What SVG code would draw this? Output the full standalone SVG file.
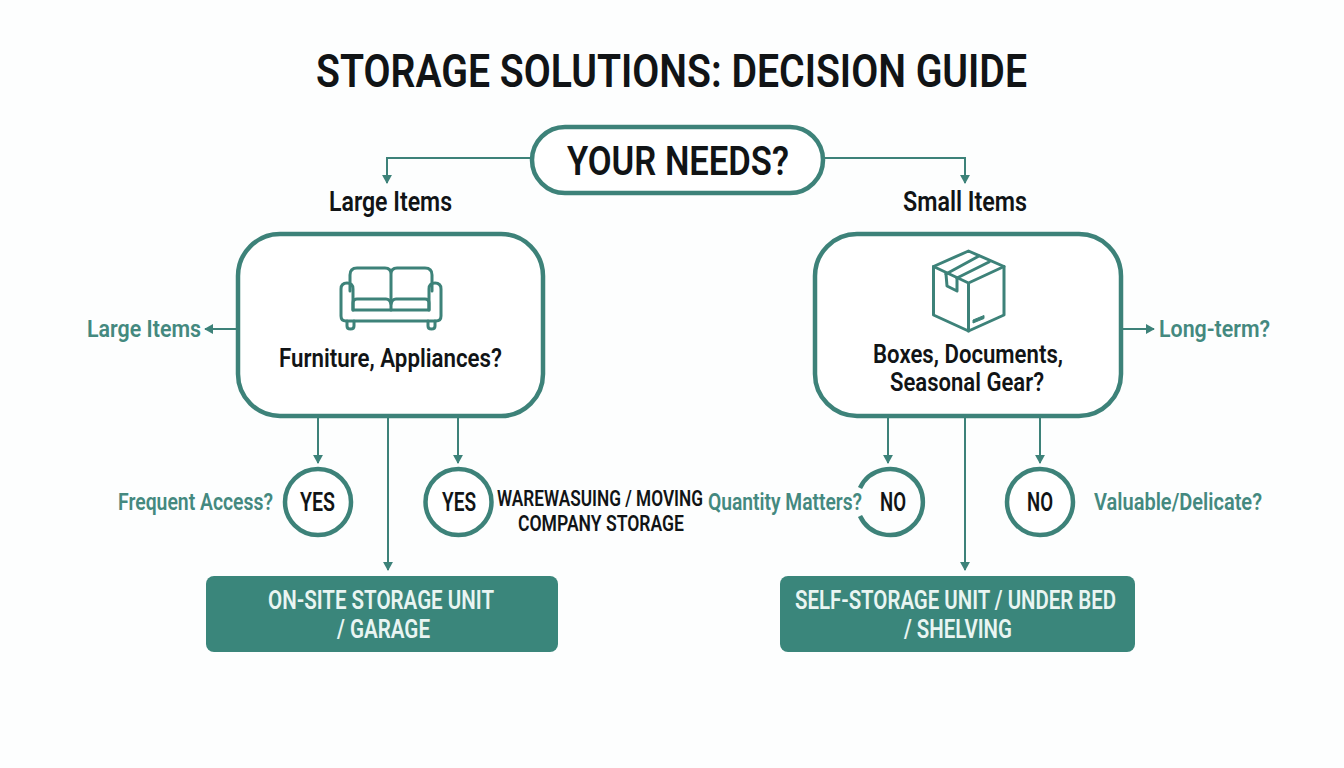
<svg xmlns="http://www.w3.org/2000/svg" width="1344" height="768" viewBox="0 0 1344 768">
<style>
text{font-family:Roboto,"Liberation Sans",sans-serif;font-weight:600}
.dk{fill:#111416}
.gr{fill:#44897f;font-size:24px}
.wh{fill:#e9f5f2;font-size:26px;font-weight:600}
.frame{fill:#fff;stroke:#3d8279;stroke-width:4.5}
.icon{fill:none;stroke:#3d8279;stroke-width:3;stroke-linejoin:round;stroke-linecap:round}
.conn{fill:none;stroke:#3d8279;stroke-width:2;marker-end:url(#ah)}
.res{fill:#3a867b}
</style>
<defs>
<marker id="ah" viewBox="0 0 10 10" refX="9" refY="5" markerWidth="9" markerHeight="10" markerUnits="userSpaceOnUse" orient="auto" preserveAspectRatio="none"><path d="M0 0L10 5L0 10Z" fill="#3d8279"/></marker>
</defs>
<rect width="1344" height="768" fill="#fdfefe"/>
<text id="title" class="dk" x="316" y="87" font-size="47" font-weight="700" textLength="711" lengthAdjust="spacingAndGlyphs">STORAGE SOLUTIONS: DECISION GUIDE</text>
<g id="connectors">
<path class="conn" d="M532 158H387V183"/>
<path class="conn" d="M823 158H965V183"/>
<path class="conn" d="M238 329H205"/>
<path class="conn" d="M1121 329H1154"/>
<path class="conn" d="M318 416V463"/>
<path class="conn" d="M388 416V570"/>
<path class="conn" d="M458 416V463"/>
<path class="conn" d="M888 416V463"/>
<path class="conn" d="M965 416V570"/>
<path class="conn" d="M1040 416V463"/>
</g>
<g id="start">
<rect class="frame" x="532" y="127" width="291" height="66" rx="33"/>
<text class="dk" x="567" y="175" font-size="40" textLength="222" lengthAdjust="spacingAndGlyphs">YOUR NEEDS?</text>
</g>
<g id="label-large"><text class="dk" x="329" y="211" font-size="27" textLength="123" lengthAdjust="spacingAndGlyphs">Large Items</text></g>
<g id="label-small"><text class="dk" x="903" y="211" font-size="27" textLength="124" lengthAdjust="spacingAndGlyphs">Small Items</text></g>
<g id="large-node">
<rect class="frame" x="238" y="234" width="305" height="182" rx="42"/>
<g class="icon">
<path d="M350 291V275Q350 268 357 268H385Q391 268 391 274V310M391 274Q391 268 397 268H425Q432 268 432 275V291"/>
<path d="M353 310V303Q353 299 357 299H386Q390 299 391 304Q392 299 396 299H425Q429 299 429 303V310Z"/>
<path d="M353 310V289Q353 283 347 283Q341 283 341 289V316Q341 321 346 321H436Q441 321 441 316V289Q441 283 435 283Q429 283 429 289V310"/>
<path d="M347 321V326Q347 329 350.500 329Q354 329 354 326V321M428 321V326Q428 329 431.500 329Q435 329 435 326V321"/>
</g>
<text class="dk" x="279" y="367" font-size="26" textLength="223" lengthAdjust="spacingAndGlyphs">Furniture, Appliances?</text>
</g>
<g id="small-node">
<rect class="frame" x="815" y="234" width="306" height="182" rx="42"/>
<g class="icon">
<path d="M968.500 251L1004 266.500V315L968.500 331L933.500 315V266.500Z"/>
<path d="M933.500 266.500L968.500 283L1004 266.500M968.500 283V331"/>
<path d="M946 274L979 256M957 278L989 262"/>
<path d="M946 274L947 286L957 291V278"/>
</g>
<path d="M973 320L984 315.500V318.500L973 323Z" fill="#3d8279" stroke="#3d8279" stroke-width="1"/>
<text class="dk" x="873" y="363" font-size="25.500" textLength="190" lengthAdjust="spacingAndGlyphs">Boxes, Documents,</text>
<text class="dk" x="890" y="391" font-size="25.500" textLength="154" lengthAdjust="spacingAndGlyphs">Seasonal Gear?</text>
</g>
<g id="side-large"><text class="gr" x="87" y="337" textLength="114" lengthAdjust="spacingAndGlyphs">Large Items</text></g>
<g id="side-long"><text class="gr" x="1159" y="337" textLength="111" lengthAdjust="spacingAndGlyphs">Long-term?</text></g>
<g id="yes-1">
<text class="gr" transform="translate(118 510) scale(.8 1)" textLength="193.750" lengthAdjust="spacingAndGlyphs">Frequent Access?</text>
<circle class="frame" cx="318" cy="502" r="33"/>
<text class="dk" x="300" y="511" font-size="25" textLength="35" lengthAdjust="spacingAndGlyphs">YES</text>
</g>
<g id="yes-2">
<circle class="frame" cx="458.500" cy="502" r="33"/>
<text class="dk" x="442" y="511" font-size="25" textLength="34" lengthAdjust="spacingAndGlyphs">YES</text>
<text class="dk" transform="translate(497 506) scale(.75 1)" font-size="22" textLength="274.670" lengthAdjust="spacingAndGlyphs">WAREWASUING / MOVING</text>
<text class="dk" transform="translate(518 531) scale(.8 1)" font-size="22" textLength="207.500" lengthAdjust="spacingAndGlyphs">COMPANY STORAGE</text>
</g>
<g id="no-1">
<path class="frame" style="fill:none" d="M860 488A33 33 0 1 1 860 516"/>
<text class="gr" transform="translate(708 510) scale(.8 1)" textLength="192.500" lengthAdjust="spacingAndGlyphs">Quantity Matters?</text>
<text class="dk" x="880" y="511" font-size="25" textLength="26" lengthAdjust="spacingAndGlyphs">NO</text>
</g>
<g id="no-2">
<circle class="frame" cx="1040" cy="502" r="33"/>
<text class="dk" x="1027" y="511" font-size="25" textLength="26" lengthAdjust="spacingAndGlyphs">NO</text>
<text class="gr" x="1094" y="510" textLength="168" lengthAdjust="spacingAndGlyphs">Valuable/Delicate?</text>
</g>
<g id="result-left">
<rect class="res" x="206" y="576" width="352" height="76" rx="8"/>
<text class="wh" x="268" y="609" textLength="226" lengthAdjust="spacingAndGlyphs">ON-SITE STORAGE UNIT</text>
<text class="wh" x="337" y="638" textLength="93" lengthAdjust="spacingAndGlyphs">/ GARAGE</text>
</g>
<g id="result-right">
<rect class="res" x="780" y="576" width="355" height="76" rx="8"/>
<text class="wh" x="795" y="609" textLength="321" lengthAdjust="spacingAndGlyphs">SELF-STORAGE UNIT / UNDER BED</text>
<text class="wh" x="904" y="638" textLength="108" lengthAdjust="spacingAndGlyphs">/ SHELVING</text>
</g>
</svg>
